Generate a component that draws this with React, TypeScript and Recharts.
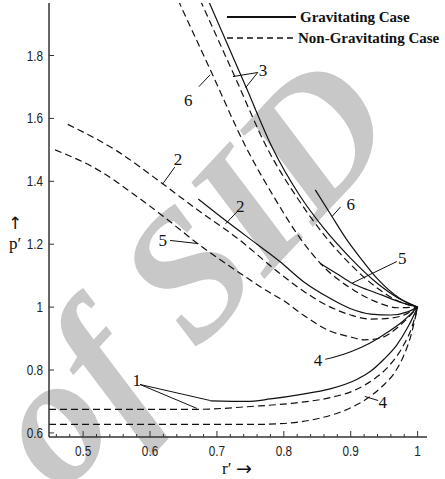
import React from "react";
import { LineChart, Line, XAxis, YAxis, ReferenceLine, ReferenceDot, Legend } from "recharts";

// each curve is a list of [r', p'] points
const grav1 = [[0.69, 0.702], [0.745, 0.7], [0.78, 0.708], [0.824, 0.722], [0.869, 0.74], [0.909, 0.77], [0.929, 0.795], [0.95, 0.835], [0.969, 0.88], [0.985, 0.935], [1.0, 1.0]];
const grav2 = [[0.672, 1.344], [0.717, 1.269], [0.76, 1.2], [0.794, 1.145], [0.83, 1.08], [0.869, 1.028], [0.9, 0.995], [0.93, 0.978], [0.96, 0.975], [0.985, 0.985], [1.0, 1.0]];
const grav3 = [[0.687, 1.976], [0.743, 1.702], [0.784, 1.502], [0.824, 1.354], [0.86, 1.25], [0.9, 1.155], [0.94, 1.075], [0.97, 1.03], [1.0, 1.0]];
const grav4 = [[0.872, 0.839], [0.9, 0.858], [0.929, 0.886], [0.955, 0.92], [0.978, 0.955], [1.0, 1.0]];
const grav5 = [[0.854, 1.139], [0.88, 1.105], [0.902, 1.076], [0.925, 1.055], [0.947, 1.038], [0.975, 1.015], [1.0, 1.0]];
const grav6 = [[0.847, 1.373], [0.872, 1.288], [0.893, 1.218], [0.915, 1.155], [0.939, 1.092], [0.973, 1.028], [1.0, 1.0]];

const nongrav1 = [[0.449, 0.675], [0.67, 0.675], [0.75, 0.684], [0.824, 0.697], [0.869, 0.712], [0.905, 0.735], [0.934, 0.77], [0.958, 0.815], [0.978, 0.875], [0.992, 0.94], [1.0, 1.0]];
const nongrav2 = [[0.477, 1.581], [0.551, 1.496], [0.619, 1.392], [0.675, 1.303], [0.73, 1.22], [0.794, 1.107], [0.83, 1.05], [0.864, 1.006], [0.9, 0.975], [0.93, 0.962], [0.96, 0.965], [0.985, 0.98], [1.0, 1.0]];
const nongrav3 = [[0.675, 1.976], [0.724, 1.746], [0.776, 1.502], [0.824, 1.335], [0.86, 1.23], [0.9, 1.135], [0.94, 1.06], [0.97, 1.02], [1.0, 1.0]];
const nongrav4 = [[0.449, 0.627], [0.754, 0.627], [0.8, 0.63], [0.85, 0.645], [0.9, 0.68], [0.925, 0.71], [0.948, 0.75], [0.965, 0.79], [0.978, 0.84], [0.99, 0.91], [1.0, 1.0]];
const nongrav5 = [[0.458, 1.5], [0.525, 1.433], [0.575, 1.36], [0.619, 1.29], [0.675, 1.196], [0.74, 1.1], [0.772, 1.055], [0.8, 1.02], [0.829, 0.975], [0.869, 0.924], [0.9, 0.905], [0.92, 0.896], [0.945, 0.902], [0.97, 0.935], [0.985, 0.965], [1.0, 1.0]];
const nongrav6 = [[0.642, 1.976], [0.69, 1.755], [0.745, 1.502], [0.787, 1.344], [0.824, 1.22], [0.862, 1.123], [0.9, 1.06], [0.94, 1.015], [0.97, 0.998], [1.0, 1.0]];

const gravCurves = [grav1, grav2, grav3, grav4, grav5, grav6];
const nongravCurves = [nongrav1, nongrav2, nongrav3, nongrav4, nongrav5, nongrav6];

const xMajor = [0.5, 0.6, 0.7, 0.8, 0.9, 1];
const xTicks = [0.46, 0.48, 0.5, 0.52, 0.54, 0.56, 0.58, 0.6, 0.62, 0.64, 0.66, 0.68, 0.7, 0.72, 0.74, 0.76, 0.78, 0.8, 0.82, 0.84, 0.86, 0.88, 0.9, 0.92, 0.94, 0.96, 0.98, 1];
const yTicks = [0.6, 0.8, 1, 1.2, 1.4, 1.6, 1.8];

// curve numbers and their leader lines, in (r', p')
const curveLabels = [
  { text: "1", r: 0.58, p: 0.769 },
  { text: "2", r: 0.642, p: 1.471 },
  { text: "2", r: 0.735, p: 1.322 },
  { text: "3", r: 0.769, p: 1.755 },
  { text: "4", r: 0.851, p: 0.833 },
  { text: "4", r: 0.948, p: 0.697 },
  { text: "5", r: 0.619, p: 1.212 },
  { text: "5", r: 0.977, p: 1.155 },
  { text: "6", r: 0.657, p: 1.66 },
  { text: "6", r: 0.9, p: 1.329 },
];
const leaders = [
  [0.585, 0.754, 0.69, 0.703],
  [0.585, 0.754, 0.67, 0.678],
  [0.637, 1.445, 0.619, 1.392],
  [0.73, 1.303, 0.713, 1.265],
  [0.761, 1.746, 0.724, 1.733],
  [0.761, 1.746, 0.743, 1.698],
  [0.862, 0.834, 0.872, 0.839],
  [0.921, 0.716, 0.941, 0.703],
  [0.63, 1.212, 0.672, 1.202],
  [0.969, 1.145, 0.902, 1.076],
  [0.673, 1.701, 0.69, 1.739],
  [0.885, 1.319, 0.872, 1.288],
];

const INK = "#111";
const AXIS = "#333";
const TICK_FONT = "'Liberation Sans', Arial, sans-serif";
const SERIF = "'Liberation Serif', 'DejaVu Serif', serif";
const ARROW_FONT = "'DejaVu Sans', sans-serif";

const toRows = (pts: number[][]) => pts.map(([r, p]) => ({ r, p }));

// narrow tick numerals
function TickText({ x, y, anchor, children }: any) {
  return (
    <text
      transform={`translate(${x},${y}) scale(0.84,1)`}
      textAnchor={anchor}
      fontSize={14}
      fontFamily={TICK_FONT}
      fill="#222"
    >
      {children}
    </text>
  );
}

function XTick({ x, y, payload }: any) {
  const v = payload.value;
  const major = xMajor.some((m) => Math.abs(m - v) < 1e-6);
  return (
    <g>
      <line x1={x} x2={x} y1={y} y2={y - (major ? 6 : 3)} stroke={AXIS} strokeWidth={1} />
      {major && (
        <TickText x={x} y={y + 19} anchor="middle">
          {String(v)}
        </TickText>
      )}
    </g>
  );
}

function YTick({ x, y, payload }: any) {
  return (
    <g>
      <line x1={x} x2={x + 5} y1={y} y2={y} stroke={AXIS} strokeWidth={1} />
      <TickText x={x - 6} y={y + 5} anchor="end">
        {String(payload.value)}
      </TickText>
    </g>
  );
}

function XTitle({ viewBox }: any) {
  const cx = viewBox.x + viewBox.width / 2;
  const base = viewBox.y + viewBox.height - 5;
  return (
    <g fill={INK}>
      <text x={cx - 16} y={base} fontSize={17} fontFamily={SERIF}>r′</text>
      <text x={cx - 2} y={base + 1} fontSize={19} fontFamily={ARROW_FONT}>→</text>
    </g>
  );
}

function YTitle({ viewBox }: any) {
  const cx = viewBox.x + 6;
  const cy = viewBox.y + viewBox.height / 2;
  return (
    <g fill={INK} textAnchor="middle">
      <text x={cx} y={cy + 9} fontSize={17} fontFamily={ARROW_FONT}>↑</text>
      <text x={cx} y={cy + 29} fontSize={17} fontFamily={SERIF}>p′</text>
    </g>
  );
}

function LegendBox() {
  return (
    <svg width={223} height={46}>
      <line x1={5} x2={74} y1={13} y2={13} stroke={INK} strokeWidth={2} />
      <text x={78} y={18} fontSize={15} fontWeight="bold" fontFamily={SERIF} fill={INK}>
        Gravitating Case
      </text>
      <line x1={5} x2={74} y1={34} y2={34} stroke={INK} strokeWidth={1.3} strokeDasharray="6 4" />
      <text x={76} y={39} fontSize={15} fontWeight="bold" fontFamily={SERIF} fill={INK}>
        Non-Gravitating Case
      </text>
    </svg>
  );
}

export default function App() {
  return (
    <div style={{ position: "absolute", left: 0, top: 0, width: 445, height: 479, background: "#fff", overflow: "hidden" }}>
      {/* faint lettering behind the plot */}
      <svg width={445} height={479} style={{ position: "absolute", left: 0, top: 0 }}>
        <text
          x={62}
          y={496}
          transform="rotate(-47 62 496)"
          fontSize={182}
          fontStyle="italic"
          fontWeight="bold"
          fontFamily={SERIF}
          fill="#c8c8c8"
        >
          of SID
        </text>
      </svg>
      <div style={{ position: "absolute", left: 0, top: 0 }}>
        <LineChart width={445} height={479} margin={{ top: 3, right: 18, bottom: 0, left: 9 }}>
          <XAxis
            type="number"
            dataKey="r"
            domain={[0.449, 1.014]}
            allowDataOverflow
            ticks={xTicks}
            interval={0}
            tick={<XTick />}
            tickLine={false}
            tickSize={0}
            tickMargin={0}
            height={42}
            axisLine={{ stroke: AXIS, strokeWidth: 1.5 }}
            label={{ content: (props: any) => <XTitle {...props} /> }}
          />
          <YAxis
            type="number"
            domain={[0.587, 1.967]}
            allowDataOverflow
            ticks={yTicks}
            interval={0}
            tick={<YTick />}
            tickLine={false}
            tickSize={0}
            tickMargin={0}
            width={40}
            axisLine={{ stroke: AXIS, strokeWidth: 1.5 }}
            label={{ content: (props: any) => <YTitle {...props} /> }}
          />
          <Legend
            layout="vertical"
            align="center"
            verticalAlign="middle"
            content={() => <LegendBox />}
            wrapperStyle={{ top: 4, left: 222, width: 223 }}
          />
          {nongravCurves.map((c, i) => (
            <Line
              key={"n" + i}
              data={toRows(c)}
              dataKey="p"
              type="monotone"
              stroke={INK}
              strokeWidth={1.2}
              strokeDasharray="7 4"
              dot={false}
              activeDot={false}
              legendType="none"
              isAnimationActive={false}
            />
          ))}
          {gravCurves.map((c, i) => (
            <Line
              key={"g" + i}
              data={toRows(c)}
              dataKey="p"
              type="monotone"
              stroke={INK}
              strokeWidth={1.2}
              dot={false}
              activeDot={false}
              legendType="none"
              isAnimationActive={false}
            />
          ))}
          {leaders.map(([r1, p1, r2, p2], i) => (
            <ReferenceLine
              key={"l" + i}
              segment={[{ x: r1, y: p1 }, { x: r2, y: p2 }]}
              stroke={INK}
              strokeWidth={1}
            />
          ))}
          {curveLabels.map((l, i) => (
            <ReferenceDot
              key={"t" + i}
              x={l.r}
              y={l.p}
              r={0}
              stroke="none"
              fill="none"
              label={{ value: l.text, position: "center", fontSize: 17, fontFamily: SERIF, fill: INK }}
            />
          ))}
        </LineChart>
      </div>
    </div>
  );
}
